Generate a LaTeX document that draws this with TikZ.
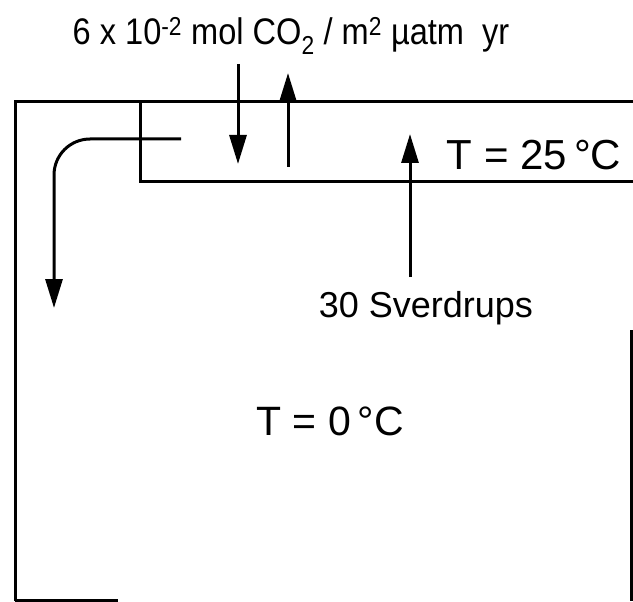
\documentclass[tikz,border=0pt]{standalone}
\usepackage{fontspec}
\usepackage{graphicx}
\setmainfont{Liberation Sans}
\usetikzlibrary{arrows.meta}

\begin{document}
\begin{tikzpicture}[x=1pt, y=-1pt, line width=3pt,
  flux/.style={-{Triangle[length=29pt,width=17pt]}},
  lbl/.style={anchor=base, inner sep=0pt}]
\useasboundingbox (0,0) rectangle (633,602);
% ocean boxes
\draw (15,601) -- (15,102) -- (633,102);
\draw (15,600) -- (118,600);
\draw (631,330) -- (631,601);
\draw (140,102) -- (140,182) -- (633,182);
% gas exchange
\coordinate (inTop) at (238,64);   \coordinate (inBot) at (238,164);
\coordinate (outBot) at (288,167); \coordinate (outTop) at (288,73);
\draw[flux] (inTop) -- (inBot);
\draw[flux] (outBot) -- (outTop);
% overturning
\coordinate (sinkA) at (181,139); \coordinate (sinkB) at (54,308);
\draw[flux, rounded corners=36pt] (sinkA) -- (54,139) -- (sinkB);
\coordinate (upA) at (410,277); \coordinate (upB) at (410,134);
\draw[flux] (upA) -- (upB);
% labels
\node[lbl, font=\fontsize{37}{40}\selectfont] (gas) at (291,45)
  {\scalebox{0.88}[1]{6 x 10\textsuperscript{-2} mol CO\textsubscript{2} / m\textsuperscript{2} µatm\ \ yr}};
\node[lbl, font=\fontsize{42}{48}\selectfont] (warm) at (534,169) {T = 25\,°C};
\node[lbl, font=\fontsize{36}{40}\selectfont] (sv) at (426,317) {30 Sverdrups};
\node[lbl, font=\fontsize{41}{46}\selectfont] (cold) at (330,435) {T = 0\,°C};
\end{tikzpicture}
\end{document}
